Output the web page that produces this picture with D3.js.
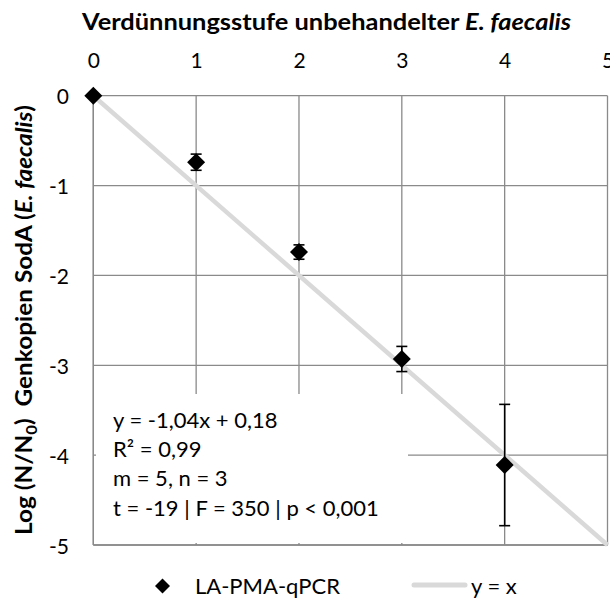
<!DOCTYPE html>
<html>
<head>
<meta charset="utf-8">
<script src="https://cdn.jsdelivr.net/npm/d3@7"></script>
<style>
  html, body { margin: 0; padding: 0; background: #fff; }
  svg { display: block; font-family: Lato, "Open Sans", sans-serif; }
</style>
</head>
<body>
<svg id="chart" width="610" height="599"></svg>
<script>
// ---- data ----
const dilutionSteps = [0, 1, 2, 3, 4];
const logReduction = [0, -0.74, -1.74, -2.93, -4.11];
const stdDev = [0, 0.09, 0.08, 0.14, 0.675];
const xTicks = [0, 1, 2, 3, 4, 5];
const yTicks = [0, -1, -2, -3, -4, -5];
const identityLine = [[0, 0], [5, -5]];
const statsLines = ["y = -1,04x + 0,18", "R² = 0,99", "m = 5, n = 3", "t = -19 | F = 350 | p < 0,001"];
const seriesName = "LA-PMA-qPCR";
const identityName = "y = x";

const svg = d3.select("#chart");
const x = d3.scaleLinear().domain([0, 5]).range([93.3, 607.5]);
const y = d3.scaleLinear().domain([-5, 0]).range([545, 95.7]);
const gridColor = "#8a8a8a";

// gridlines
const g = svg.append("g");
g.selectAll(".vg").data(xTicks).join("line")
  .attr("x1", d => x(d)).attr("x2", d => x(d))
  .attr("y1", y(0)).attr("y2", y(-5))
  .attr("stroke", gridColor).attr("stroke-width", 1.3);
g.selectAll(".hg").data(yTicks).join("line")
  .attr("y1", d => y(d)).attr("y2", d => y(d))
  .attr("x1", x(0)).attr("x2", x(5))
  .attr("stroke", gridColor).attr("stroke-width", 1.3);

// white stats box covering gridlines
svg.append("rect")
  .attr("x", 96).attr("y", 394).attr("width", 312).attr("height", 149)
  .attr("fill", "#fff");

// re-draw left and bottom borders
svg.append("line").attr("x1", x(0)).attr("x2", x(0)).attr("y1", y(0)).attr("y2", y(-5))
  .attr("stroke", gridColor).attr("stroke-width", 1.3);
svg.append("line").attr("x1", x(0)).attr("x2", x(5)).attr("y1", y(-5)).attr("y2", y(-5))
  .attr("stroke", gridColor).attr("stroke-width", 1.3);

// top axis labels
const xAxis = d3.axisTop(x).tickValues(xTicks).tickSize(0).tickPadding(0).tickFormat(d3.format("d"));
const xa = svg.append("g").attr("transform", "translate(0,68)").call(xAxis);
xa.select(".domain").remove();
xa.selectAll("text").attr("font-size", 21).attr("font-family", "Lato, sans-serif").attr("fill", "#000").attr("dy", 0);

// left axis labels
const yAxis = d3.axisLeft(y).tickValues(yTicks).tickSize(0).tickPadding(0).tickFormat(d => d3.format("d")(d).replace("−", "-"));
const ya = svg.append("g").attr("transform", "translate(69,1.5)").call(yAxis);
ya.select(".domain").remove();
ya.selectAll("text").attr("font-size", 21).attr("font-family", "Lato, sans-serif").attr("fill", "#000");

// identity line
const line = d3.line().x(d => x(d[0])).y(d => y(d[1]));
svg.append("path").datum(identityLine).attr("d", line)
  .attr("stroke", "#d9d9d9").attr("stroke-width", 4.5).attr("fill", "none");

// error bars
const eb = svg.append("g").attr("stroke", "#000").attr("stroke-width", 1.6);
dilutionSteps.forEach((d, i) => {
  if (stdDev[i] <= 0) return;
  const cx = x(d), y1 = y(logReduction[i] + stdDev[i]), y2 = y(logReduction[i] - stdDev[i]);
  eb.append("line").attr("x1", cx).attr("x2", cx).attr("y1", y1).attr("y2", y2);
  eb.append("line").attr("x1", cx - 5.5).attr("x2", cx + 5.5).attr("y1", y1).attr("y2", y1);
  eb.append("line").attr("x1", cx - 5.5).attr("x2", cx + 5.5).attr("y1", y2).attr("y2", y2);
});

// markers
const diamond = r => `M0,${-r}L${r},0L0,${r}L${-r},0Z`;
svg.selectAll(".pt").data(dilutionSteps).join("path")
  .attr("d", diamond(9))
  .attr("transform", (d, i) => `translate(${x(d)},${y(logReduction[i])})`)
  .attr("fill", "#000");

// stats text
const st = svg.append("text").attr("font-size", 22).attr("fill", "#000");
statsLines.forEach((s, i) => {
  st.append("tspan").attr("x", 113).attr("y", 428 + i * 29.2).text(s);
});

// title
const title = svg.append("text").attr("x", 82).attr("y", 30)
  .attr("font-size", 23).attr("font-weight", "bold").attr("fill", "#000")
  .attr("textLength", 489).attr("lengthAdjust", "spacingAndGlyphs");
title.append("tspan").text("Verdünnungsstufe unbehandelter ");
title.append("tspan").attr("font-style", "italic").text("E. faecalis");

// y label
const yl = svg.append("text").attr("transform", "translate(32,105) rotate(-90)")
  .attr("x", -430).attr("font-size", 22).attr("font-weight", "bold").attr("fill", "#000")
  .attr("textLength", 430).attr("lengthAdjust", "spacingAndGlyphs");
yl.append("tspan").text("Log (N/N");
yl.append("tspan").attr("font-size", 15).attr("dy", 5).text("0");
yl.append("tspan").attr("dy", -5).text(")\u00a0\u00a0Genkopien SodA (");
yl.append("tspan").attr("font-style", "italic").text("E. faecalis");
yl.append("tspan").text(")");

// legend
svg.append("path").attr("d", diamond(7.5)).attr("transform", "translate(162.5,586)").attr("fill", "#000");
svg.append("text").attr("x", 195).attr("y", 594).attr("font-size", 22).attr("fill", "#000").text(seriesName);
svg.append("line").attr("x1", 414).attr("x2", 465).attr("y1", 585).attr("y2", 585)
  .attr("stroke", "#d9d9d9").attr("stroke-width", 5).attr("stroke-linecap", "round");
svg.append("text").attr("x", 471).attr("y", 594).attr("font-size", 22).attr("fill", "#000").text(identityName);
</script>
</body>
</html>
